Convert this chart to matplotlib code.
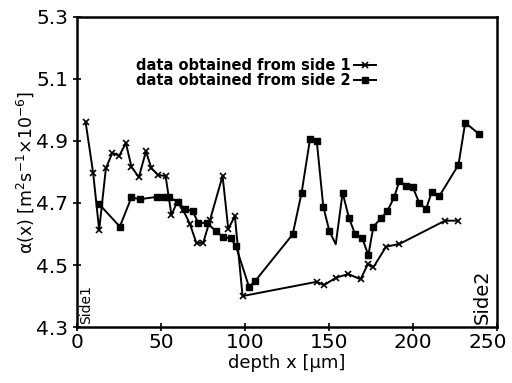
import matplotlib
matplotlib.use('Agg')
import matplotlib.pyplot as plt
import matplotlib.transforms as mtransforms

plt.rcParams['font.family'] = ['DejaVu Sans']

# Side 1 data
depth1 = [5.2, 9.7, 13.3, 17.3, 21.2, 25.2, 29.2, 32.5, 36.9, 41.1, 44.4, 48.4,
          52.8, 56.3, 59.7, 63.3, 67.3, 71.2, 75.2, 79.2, 86.7, 90.1, 94.0, 98.6,
          142.7, 147.0, 154.0, 161.5, 168.8, 173.0, 176.4, 183.9, 191.9, 219.0, 227.0]
alpha1 = [4.962, 4.798, 4.613, 4.812, 4.862, 4.852, 4.893, 4.817, 4.783, 4.866, 4.812, 4.790,
          4.787, 4.661, 4.704, 4.677, 4.632, 4.570, 4.572, 4.645, 4.787, 4.616, 4.658, 4.400,
          4.446, 4.435, 4.459, 4.471, 4.454, 4.502, 4.493, 4.559, 4.568, 4.643, 4.643]

# Side 2 data
depth2 = [13.3, 25.6, 32.5, 37.5, 47.8, 52.0, 55.0, 60.3, 64.3, 68.9, 72.2, 77.2,
          82.7, 86.7, 91.5, 94.6, 102.4, 106.0, 128.4, 133.7, 138.7, 142.7, 146.6,
          150.2, 154.0, 158.1, 161.9, 165.5, 169.8, 173.4, 176.4, 181.0, 184.7, 188.7,
          191.9, 195.8, 199.8, 203.6, 207.7, 211.1, 215.7, 227.0, 231.0, 239.3]
alpha2 = [4.696, 4.624, 4.718, 4.712, 4.720, 4.720, 4.718, 4.702, 4.680, 4.674, 4.636, 4.636,
          4.610, 4.591, 4.586, 4.561, 4.430, 4.448, 4.599, 4.733, 4.906, 4.900, 4.688,
          4.610, 4.567, 4.733, 4.651, 4.600, 4.586, 4.532, 4.624, 4.651, 4.674, 4.718,
          4.772, 4.755, 4.751, 4.701, 4.680, 4.736, 4.723, 4.823, 4.959, 4.922]
# the dip at 154 has no marker
nomark2 = [24]

fig = plt.figure(figsize=(5.12, 3.83), dpi=100)
ax = fig.add_axes([0.150, 0.146, 0.821, 0.810])

ax.plot(depth1, alpha1, color='black', lw=1.4, marker='x', ms=4, mew=1.2,
        label='data obtained from side 1')
ax.plot(depth2, alpha2, color='black', lw=1.4, marker='s', ms=4,
        markevery=[i for i in range(len(depth2)) if i not in nomark2],
        label='data obtained from side 2')

ax.set_xlim(0, 250)
ax.set_ylim(4.3, 5.3)
ax.set_xticks([0, 50, 100, 150, 200, 250])
ax.set_yticks([4.3, 4.5, 4.7, 4.9, 5.1, 5.3])
ax.set_yticklabels(['4.3', '4.5', '4.7', '4.9', '5.1', '5.3'])
ax.tick_params(direction='inout', length=6, width=1.2, labelsize=14.5)
ax.tick_params(axis='y', pad=3)
ax.tick_params(axis='x', pad=1)

# last x label sits a bit left, as in the original
lbl = ax.get_xticklabels()[-1]
lbl.set_transform(lbl.get_transform() + mtransforms.ScaledTranslation(-9 / 100, 0, fig.dpi_scale_trans))

for s in ax.spines.values():
    s.set_linewidth(1.8)

ax.set_xlabel('depth x [\u03bcm]', fontsize=13, labelpad=2)
ax.set_ylabel('\u03b1(x) [m$^{2}$s$^{\u22121}$\u00d710$^{\u22126}$]', fontsize=12.5, labelpad=0)

ax.text(1.5, 4.31, 'Side1', rotation=90, fontsize=10, va='bottom', ha='left')
ax.text(247, 4.31, 'Side2', rotation=90, fontsize=14, va='bottom', ha='right')

leg = ax.legend(loc='upper left', bbox_to_anchor=(0.11, 0.91), frameon=False,
                markerfirst=False, handlelength=1.5, handletextpad=0.2,
                labelspacing=0.0, prop={'weight': 'bold', 'size': 10.5})

fig.savefig('out.png', dpi=100)
